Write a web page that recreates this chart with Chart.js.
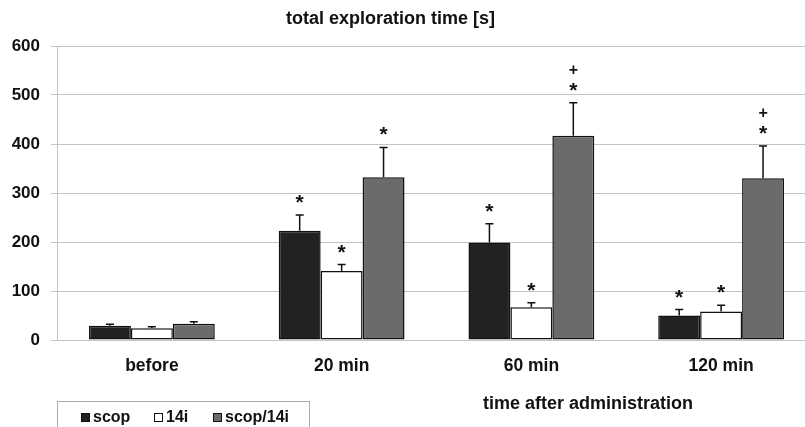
<!DOCTYPE html>
<html>
<head>
<meta charset="utf-8">
<script src="https://cdn.jsdelivr.net/npm/chart.js@4/dist/chart.umd.min.js"></script>
<style>
   html, body { margin: 0; padding: 0; background: #fff; overflow: hidden; }
   #wrap { position: relative; width: 830px; height: 427px; }
</style>
</head>
<body>
<div id="wrap"><canvas id="myChart"></canvas></div>
<script>
// ============  data  ============
const categories = ['before', '20 min', '60 min', '120 min'];
const seriesNames = ['scop', '14i', 'scop/14i'];
const scopValues = [29, 223, 199, 50];
const scopErrors = [3, 32, 38, 12];
const i14Values = [24, 141, 67, 58];
const i14Errors = [3, 13, 9, 13];
const comboValues = [33, 332, 417, 330];
const comboErrors = [4, 61, 67, 66];
// significance marks above each bar ('+' is drawn above the '*')
const scopMarks = ['', '*', '*', '*'];
const i14Marks = ['', '*', '*', '*'];
const comboMarks = ['', '*', '+*', '+*'];
const yTickValues = [0, 100, 200, 300, 400, 500, 600];

const chartTitle = 'total exploration time [s]';
const xTitle = 'time after administration';

const FONT = "'Liberation Sans', Arial, sans-serif";
Chart.defaults.font.family = FONT;
Chart.defaults.font.weight = 'bold';
Chart.defaults.color = '#111';

const errors = [scopErrors, i14Errors, comboErrors];
const marks = [scopMarks, i14Marks, comboMarks];

// error bars, stars, titles and the boxed legend
const extras = {
   id: 'extras',
   afterDatasetsDraw(chart) {
      const c = chart.ctx;
      const y = chart.scales.y;
      chart.data.datasets.forEach((ds, i) => {
         const meta = chart.getDatasetMeta(i);
         meta.data.forEach((bar, j) => {
            const top = y.getPixelForValue(ds.data[j] + errors[i][j]);
            c.save();
            c.strokeStyle = '#111';
            c.lineWidth = 1.5;
            c.beginPath();
            c.moveTo(bar.x, bar.y);
            c.lineTo(bar.x, top);
            c.moveTo(bar.x - 4, top);
            c.lineTo(bar.x + 4, top);
            c.stroke();
            // marks
            const m = marks[i][j];
            c.fillStyle = '#111';
            c.textAlign = 'center';
            c.textBaseline = 'alphabetic';
            if (m.includes('*')) {
               c.font = 'bold 21px ' + FONT;
               // asterisk centre ~0.57em above baseline
               c.fillText('*', bar.x, top - 18 + 0.57 * 21);
            }
            if (m.includes('+')) {
               c.font = 'bold 16px ' + FONT;
               c.textBaseline = 'middle';
               c.fillText('+', bar.x, top - 32);
            }
            c.restore();
         });
      });
   },
   afterDraw(chart) {
      const c = chart.ctx;
      c.save();
      c.fillStyle = '#111';
      c.textBaseline = 'middle';
      c.font = 'bold 18px ' + FONT;
      c.textAlign = 'left';
      c.fillText(chartTitle, 286, 19);
      c.fillText(xTitle, 483, 404);

      // legend box
      c.strokeStyle = '#aaa';
      c.lineWidth = 1;
      c.strokeRect(57.5, 401.5, 252, 40);
      c.font = 'bold 16px ' + FONT;
      const boxX = [81, 154, 213];
      chart.data.datasets.forEach((ds, i) => {
         c.fillStyle = ds.backgroundColor;
         c.fillRect(boxX[i], 413, 9, 9);
         c.strokeStyle = '#111';
         c.strokeRect(boxX[i] + 0.5, 413.5, 8, 8);
         c.fillStyle = '#111';
         c.fillText(ds.label, boxX[i] + 12, 418);
      });
      c.restore();
   }
};

let ctx = document.getElementById('myChart').getContext('2d');
let myChart = new Chart(ctx, {
   type: 'bar',
   data: {
      labels: categories,
      datasets: [{
         label: seriesNames[0],
         data: scopValues,
         backgroundColor: '#222222',
      }, {
         label: seriesNames[1],
         data: i14Values,
         backgroundColor: '#ffffff',
      }, {
         label: seriesNames[2],
         data: comboValues,
         backgroundColor: '#6b6b6b',
      }],
   },
   options: {
      responsive: true,
      maintainAspectRatio: false,
      animation: false,
      datasets: {
         bar: {
            barPercentage: 1,
            categoryPercentage: 0.663,
            borderColor: '#111',
            borderWidth: 1.5,
            borderSkipped: false,
         },
      },
      layout: {
         padding: { top: 46, right: 14, left: 0, bottom: 0 },
      },
      scales: {
         x: {
            grid: { display: false, drawTicks: false },
            border: { display: false },
            ticks: {
               padding: 16,
               font: { size: 17.5, weight: 'bold' },
               color: '#111',
            },
            afterFit: function(scale) { scale.height = 87; },
         },
         y: {
            min: 0,
            max: 600,
            afterBuildTicks: function(scale) {
               scale.ticks = yTickValues.map(v => ({ value: v }));
            },
            grid: {
               color: '#c4c4c4',
               lineWidth: 1,
               tickLength: 6,
            },
            border: { color: '#c4c4c4', width: 1 },
            ticks: {
               padding: 11,
               font: { size: 17, weight: 'bold' },
               color: '#111',
            },
            afterFit: function(scale) { scale.width = 57; },
         },
      },
      plugins: {
         legend: { display: false },
         tooltip: { enabled: false },
      },
   },
   plugins: [extras],
});
</script>
</body>
</html>
